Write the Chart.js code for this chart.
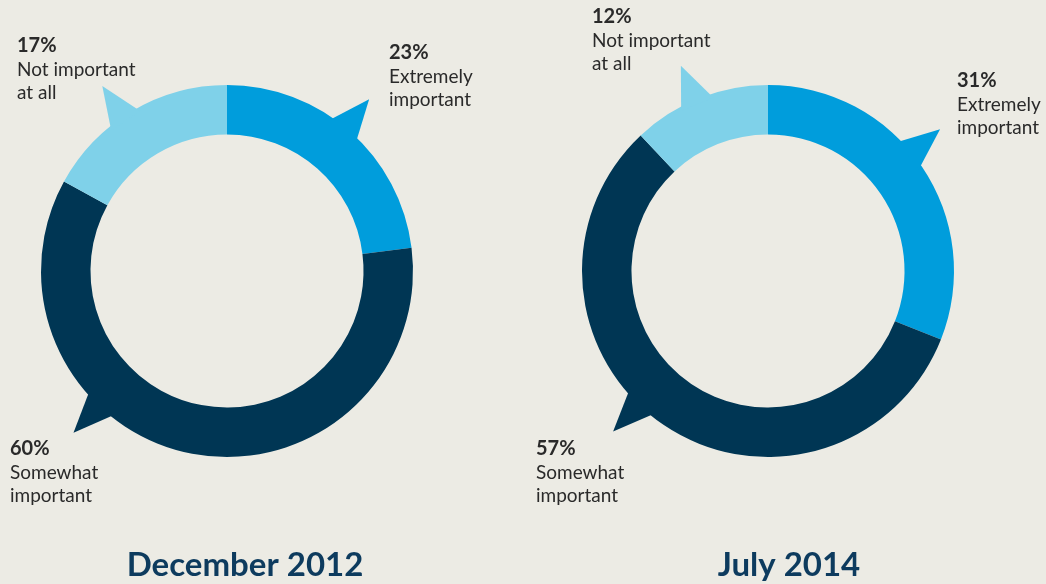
<!DOCTYPE html>
<html>
<head>
<meta charset="utf-8">
<title>Importance ratings</title>
<script src="https://cdn.jsdelivr.net/npm/chart.js@4.4.1/dist/chart.umd.min.js"></script>
<style>
  html, body { margin: 0; padding: 0; background: #ecebe4; }
  body { width: 1046px; height: 584px; position: relative; overflow: hidden; }
  .panel { position: absolute; top: 0; width: 523px; height: 584px; }
  #panelLeft { left: 0; }
  #panelRight { left: 523px; }
</style>
</head>
<body>
<div class="panel" id="panelLeft"><canvas id="chartDec2012"></canvas></div>
<div class="panel" id="panelRight"><canvas id="chartJul2014"></canvas></div>
<script>
// Datos de la encuesta
const categories = ['Extremely important', 'Somewhat important', 'Not important at all'];
const categoryLines = [['Extremely', 'important'], ['Somewhat', 'important'], ['Not important', 'at all']];
const dec2012Values = [23, 60, 17];
const jul2014Values = [31, 57, 12];
const periodTitles = ['December 2012', 'July 2014'];

const sliceColors = ['#009ddc', '#003654', '#7fd1e9'];
const textFont = 'Lato, "Liberation Sans", sans-serif';

// Plugin: "colas" de bocadillo en el anillo, etiquetas y título inferior
const calloutPlugin = {
    id: 'callouts',
    afterDatasetsDraw(chart, args, opts) {
        const ctx = chart.ctx;
        const meta = chart.getDatasetMeta(0);
        const values = chart.data.datasets[0].data;

        meta.data.forEach((arc, i) => {
            const { x, y, outerRadius } = arc.getProps(['x', 'y', 'outerRadius'], true);
            const a = (opts.pointerAngles[i] - 90) * Math.PI / 180;
            const half = opts.halfWidth * Math.PI / 180;
            const tipR = outerRadius + opts.tipLength;
            const baseR = outerRadius - 4;

            ctx.save();
            ctx.fillStyle = arc.options.backgroundColor;
            ctx.beginPath();
            ctx.moveTo(x + Math.cos(a - half) * baseR, y + Math.sin(a - half) * baseR);
            ctx.lineTo(x + Math.cos(a) * tipR, y + Math.sin(a) * tipR);
            ctx.lineTo(x + Math.cos(a + half) * baseR, y + Math.sin(a + half) * baseR);
            ctx.closePath();
            ctx.fill();
            ctx.restore();

            // Etiqueta: porcentaje en negrita y descripción debajo
            const pos = opts.labelOffsets[i];
            const lx = x + pos[0];
            const ly = y + pos[1];
            ctx.save();
            ctx.fillStyle = '#2a2a2a';
            ctx.textAlign = 'left';
            ctx.textBaseline = 'alphabetic';
            ctx.font = 'bold 20px ' + textFont;
            ctx.fillText(values[i] + '%', lx, ly);
            ctx.font = '19px ' + textFont;
            categoryLines[i].forEach((line, k) => {
                ctx.fillText(line, lx, ly + 24 + k * 23);
            });
            ctx.restore();
        });

        // Título del periodo
        ctx.save();
        ctx.fillStyle = '#0d3b5e';
        ctx.font = 'bold 33px ' + textFont;
        ctx.textAlign = 'center';
        ctx.textBaseline = 'alphabetic';
        ctx.fillText(opts.title, opts.titleX, 576);
        ctx.restore();
    }
};

function renderDonut(canvasId, values, title, padRight, titleX, pointerAngles, labelOffsets) {
    const ctx = document.getElementById(canvasId).getContext('2d');
    return new Chart(ctx, {
        type: 'doughnut',
        data: {
            labels: categories,
            datasets: [{
                data: values,
                backgroundColor: sliceColors,
                borderWidth: 0,
                hoverOffset: 0,
                offset: 0
            }]
        },
        options: {
            responsive: true,
            maintainAspectRatio: false,
            animation: false,
            cutout: '73.4%',
            events: [],
            layout: {
                padding: { top: 85, bottom: 127, left: 0, right: padRight }
            },
            plugins: {
                legend: { display: false },
                tooltip: { enabled: false },
                title: { display: false },
                callouts: {
                    title: title,
                    titleX: titleX,
                    pointerAngles: pointerAngles,
                    labelOffsets: labelOffsets,
                    halfWidth: 5.5,
                    tipLength: 37
                }
            }
        },
        plugins: [calloutPlugin]
    });
}

renderDonut('chartDec2012', dec2012Values, periodTitles[0], 69, 245,
    [39.6, 223.5, 326],
    [[162, -212], [-217, 184], [-210, -219]]);

renderDonut('chartJul2014', jul2014Values, periodTitles[1], 33, 266,
    [50.5, 224, 337],
    [[189, -184], [-232, 184], [-176, -248]]);
</script>
</body>
</html>
